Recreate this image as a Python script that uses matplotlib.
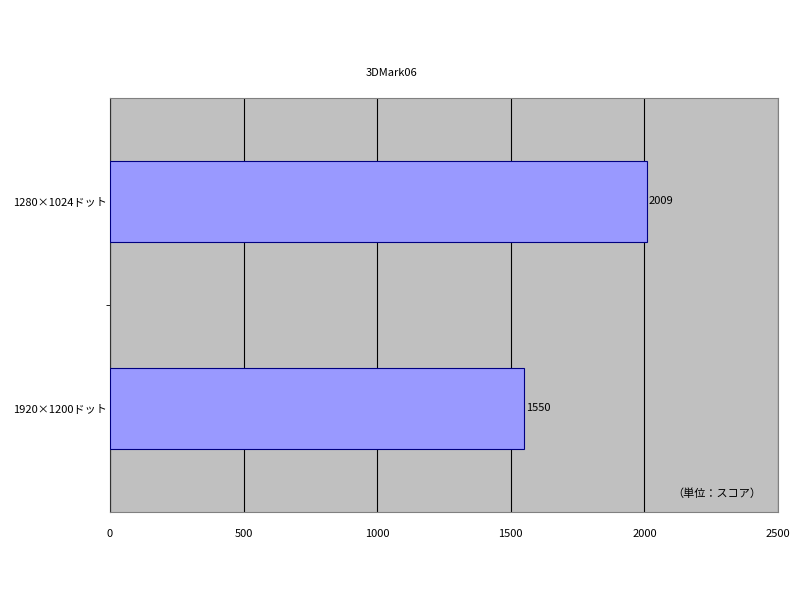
import matplotlib.pyplot as plt

plt.rcParams['font.family'] = ['Noto Sans CJK JP', 'DejaVu Sans']

categories = ['1920×1200ドット', '1280×1024ドット']
scores = [1550, 2009]
xticks = [0, 500, 1000, 1500, 2000, 2500]

fig = plt.figure(figsize=(8, 6), dpi=100)
ax = fig.add_axes([0.1375, 0.1467, 0.835, 0.69])
ax.set_facecolor('#C0C0C0')

pos = list(range(len(categories)))
bars = ax.barh(pos, scores, height=0.39, color='#9999FF', edgecolor='#000080', linewidth=0.8, zorder=3)
for b, v in zip(bars, scores):
    ax.text(v + 8, b.get_y() + b.get_height() / 2, str(v), va='center', ha='left', fontsize=8, zorder=4)

ax.set_xlim(0, 2500)
ax.set_ylim(-0.5, 1.5)
ax.set_xticks(xticks)
ax.set_xticklabels([str(t) for t in xticks], fontsize=8)
ax.set_yticks(pos)
ax.set_yticklabels(categories, fontsize=8)
ax.set_yticks([0.5], minor=True)
ax.tick_params(axis='y', which='major', length=0, pad=2)
ax.tick_params(axis='y', which='minor', length=3, direction='out')
ax.tick_params(axis='x', length=0, pad=12)
ax.grid(axis='x', color='black', linewidth=0.8, zorder=1)

for s in ['top', 'right', 'bottom']:
    ax.spines[s].set_color('#808080')
    ax.spines[s].set_linewidth(0.8)
ax.spines['left'].set_color('#333333')

fig.text(0.49, 0.878, '3DMark06', ha='center', va='center', fontsize=8)
ax.text(0.975, 0.045, '（単位：スコア）', transform=ax.transAxes, ha='right', va='center', fontsize=8, zorder=5)

fig.savefig('out.png', dpi=100, facecolor='white')
